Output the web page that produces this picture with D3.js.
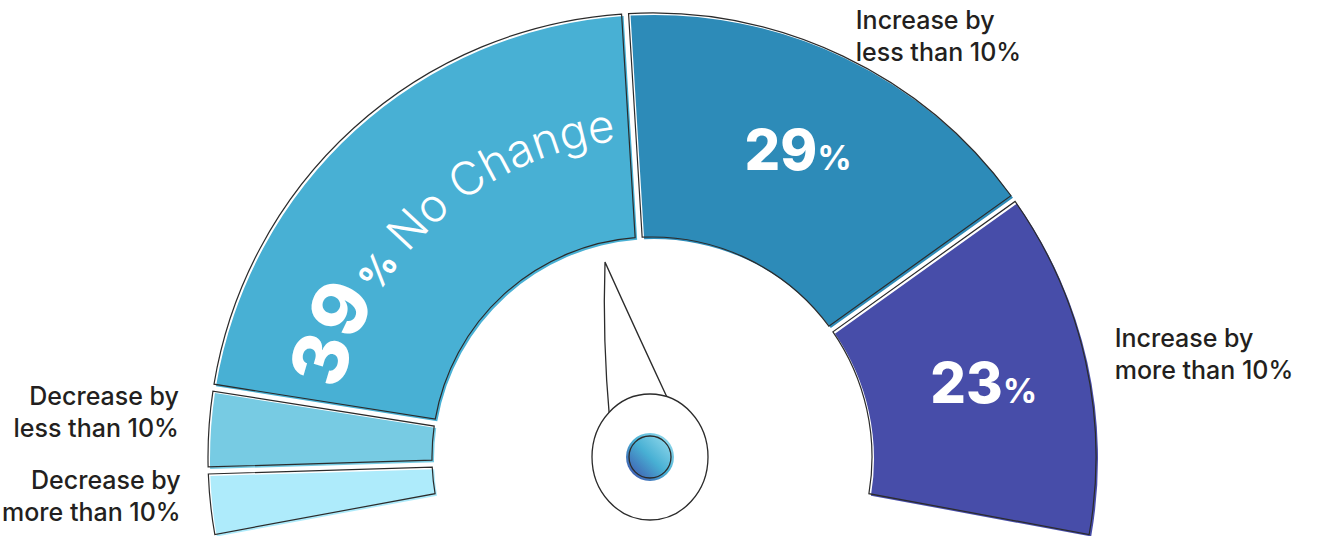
<!DOCTYPE html>
<html>
<head>
<meta charset="utf-8">
<script src="https://cdn.jsdelivr.net/npm/d3@7"></script>
<style>
  html, body { margin: 0; padding: 0; background: #ffffff; }
  svg { display: block; }
  text { font-family: Inter, "Noto Sans", Roboto, sans-serif; }
</style>
</head>
<body>
<svg id="chart" width="1324" height="536"></svg>
<script>
// Expected change, share of respondents (%)
const categories = [
  "Decrease by more than 10%",
  "Decrease by less than 10%",
  "No Change",
  "Increase by less than 10%",
  "Increase by more than 10%"
];
const values = [4, 5, 39, 29, 23];
const showValue = [false, false, true, true, true];
const palette = ["#aeebfb", "#77cbe3", "#48b0d4", "#2d8bb8", "#474da9"];

const W = 1324, H = 536;
const cx = 652, cy = 457;
const rInner = 220, rOuter = 444;
const sweep = 100.5 * Math.PI / 180;      // dial runs a little past horizontal on both sides
const ink = "#2b2b2b";
const textDark = "#231f20";

const svg = d3.select("#chart");
const defs = svg.append("defs");
const g = svg.append("g").attr("transform", `translate(${cx},${cy})`);

const data = categories.map((c, i) => ({ category: c, value: values[i], color: palette[i], show: showValue[i] }));

const pie = d3.pie()
  .sort(null)
  .value(d => d.value)
  .startAngle(-sweep)
  .endAngle(sweep)
  .padAngle(7 / rOuter);

const arc = d3.arc()
  .innerRadius(rInner)
  .outerRadius(rOuter)
  .padRadius(rOuter);

const arcs = pie(data);

// colour fills, nudged slightly off their outlines for a hand-inked feel
g.selectAll("path.seg-fill")
  .data(arcs)
  .join("path")
  .attr("class", "seg-fill")
  .attr("d", arc)
  .attr("fill", d => d.data.color)
  .attr("transform", "translate(2,2)");

g.selectAll("path.seg-ink")
  .data(arcs)
  .join("path")
  .attr("class", "seg-ink")
  .attr("d", arc)
  .attr("fill", "none")
  .attr("stroke", ink)
  .attr("stroke-width", 1.2);

const midAngle = d => (d.startAngle + d.endAngle) / 2;
const polar = (a, r) => [Math.sin(a) * r, -Math.cos(a) * r];

// curved headline inside the "No Change" band
const nc = arcs.find(d => d.data.category === "No Change");
{
  const m = midAngle(nc);
  const rText = 318;
  const p = d3.path();
  p.arc(0, 0, rText, m - 1.5 - Math.PI / 2, m + 1.5 - Math.PI / 2, false);
  defs.append("path").attr("id", "ncPath").attr("d", p.toString());

  const tp = g.append("text")
    .attr("fill", "#ffffff")
    .append("textPath")
    .attr("href", "#ncPath")
    .attr("startOffset", "50%")
    .attr("text-anchor", "middle");
  tp.append("tspan").attr("font-size", 76).attr("font-weight", 800).text(nc.data.value);
  tp.append("tspan").attr("font-size", 38).attr("font-weight", 700).attr("dx", 4).text("%");
  tp.append("tspan").attr("font-size", 46).attr("font-weight", 300).attr("dx", 12).text(nc.data.category);
}

// value labels inside the other bands
const rValue = 340;
const valueLabels = g.selectAll("text.val")
  .data(arcs.filter(d => d.data.show && d !== nc))
  .join("text")
  .attr("class", "val")
  .attr("fill", "#ffffff")
  .attr("text-anchor", "middle")
  .attr("transform", d => {
    const [x, y] = polar(midAngle(d), rValue);
    return `translate(${x},${y + 20})`;
  });
valueLabels.append("tspan").attr("font-size", 56).attr("font-weight", 800).text(d => d.data.value);
valueLabels.append("tspan").attr("font-size", 34).attr("font-weight", 700).text("%");

// category names outside the dial, kept inside the frame and apart from each other
const rLabel = rOuter + 30;
const lineGap = 32;
const maxY = H - cy - 40;           // lowest allowed anchor (second line stays on the page)
const minY = -cy + 36;              // highest allowed anchor (first line stays on the page)
const minSpacing = 84;              // vertical room for a two-line label
const outsideArcs = arcs.filter(d => d !== nc).map(d => {
  const [x, y] = polar(midAngle(d), rLabel);
  return { d, x, y: Math.max(minY, Math.min(y, maxY)), side: x >= 0 ? 1 : -1 };
});
[-1, 1].forEach(side => {
  const group = outsideArcs.filter(o => o.side === side).sort((a, b) => b.y - a.y);
  for (let i = 1; i < group.length; i++) {
    if (group[i - 1].y - group[i].y < minSpacing) group[i].y = group[i - 1].y - minSpacing;
  }
});

const outside = g.selectAll("text.cat")
  .data(outsideArcs)
  .join("text")
  .attr("class", "cat")
  .attr("fill", textDark)
  .attr("font-size", 25)
  .attr("font-weight", 500)
  .attr("text-anchor", o => o.side > 0 ? "start" : "end")
  .attr("transform", o => `translate(${o.x},${o.y})`);
outside.selectAll("tspan")
  .data(o => {
    const c = o.d.data.category;
    const i = c.indexOf(" by ") + 3;
    return [c.slice(0, i), c.slice(i + 1)];
  })
  .join("tspan")
  .attr("x", 0)
  .attr("y", (t, i) => i === 0 ? -7 : -7 + lineGap)
  .text(t => t);

// needle and hub
const hub = svg.append("g").attr("transform", `translate(650,457)`);
hub.append("path")
  .attr("transform", "rotate(-13)")
  .attr("d", "M-31,-45 Q-20,-125 0,-200 Q15,-125 32,-45 Z")
  .attr("fill", "#ffffff")
  .attr("stroke", ink)
  .attr("stroke-width", 1.3);

hub.append("ellipse")
  .attr("rx", 58).attr("ry", 63)
  .attr("fill", "#ffffff")
  .attr("stroke", ink)
  .attr("stroke-width", 1.3);

const grad = defs.append("linearGradient")
  .attr("id", "hubGrad")
  .attr("x1", "0%").attr("y1", "100%")
  .attr("x2", "100%").attr("y2", "0%");
grad.append("stop").attr("offset", "0%").attr("stop-color", "#3d45a6");
grad.append("stop").attr("offset", "50%").attr("stop-color", "#48b0d4");
grad.append("stop").attr("offset", "100%").attr("stop-color", "#a4e3f2");

hub.append("circle").attr("r", 24).attr("fill", "url(#hubGrad)");
hub.append("circle").attr("r", 21).attr("fill", "none").attr("stroke", ink).attr("stroke-width", 1.3);
</script>
</body>
</html>
